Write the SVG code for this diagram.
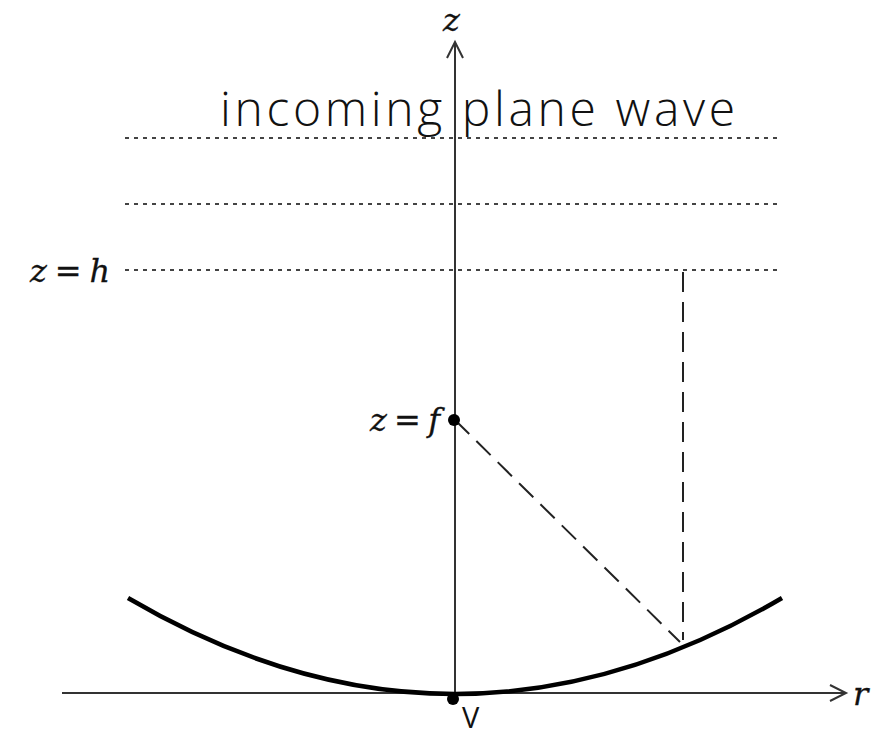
<svg xmlns="http://www.w3.org/2000/svg" width="892" height="732" viewBox="0 0 892 732">
<style>
.axis{stroke:#333;stroke-width:2;fill:none}
.dot{stroke:#444;stroke-width:2;stroke-dasharray:4 5;fill:none}
.dash{stroke:#222;stroke-width:2;stroke-dasharray:20 10;fill:none}
.mir{stroke:#000;stroke-width:4.5;fill:none}
.math{font-family:"DejaVu Serif","Liberation Serif",serif;font-style:italic;font-size:32px;fill:#111;stroke:#111;stroke-width:0.3}
.sans{font-family:"Open Sans","Noto Sans",sans-serif;font-weight:300;font-size:48px;fill:#111}
</style>
<rect width="892" height="732" fill="#fff"/>
<g id="connectors">
<line class="axis" x1="455" y1="42" x2="455" y2="695"/>
<polyline class="axis" points="447,58 455,42 463,58"/>
<line class="axis" x1="62" y1="693" x2="846" y2="693"/>
<polyline class="axis" points="830,685 846,693 830,701"/>
<line class="dot" x1="125" y1="138" x2="780" y2="138"/>
<line class="dot" x1="125" y1="204" x2="780" y2="204"/>
<line class="dot" x1="125" y1="270" x2="780" y2="270"/>
<line class="dash" x1="683" y1="272" x2="683" y2="640"/>
<line class="dash" x1="455" y1="420" x2="680" y2="642"/>
</g>
<g id="mirror">
<path class="mir" d="M128,598 Q455,790 782,598"/>
</g>
<g id="focus">
<circle cx="454" cy="420" r="6" fill="#000"/>
<text class="math" x="370" y="431" textLength="70" lengthAdjust="spacing">z=f</text>
</g>
<g id="vertex">
<circle cx="453" cy="699" r="6" fill="#000"/>
<text x="462" y="728" font-family="'Open Sans','Noto Sans',sans-serif" font-size="29" fill="#111">V</text>
</g>
<g id="labels">
<text class="math" x="443" y="31">z</text>
<text class="math" x="30" y="282" textLength="80" lengthAdjust="spacing">z=h</text>
<text class="math" x="853" y="705">r</text>
<text class="sans" x="220" y="126" textLength="515" lengthAdjust="spacing">incoming plane wave</text>
</g>
</svg>
